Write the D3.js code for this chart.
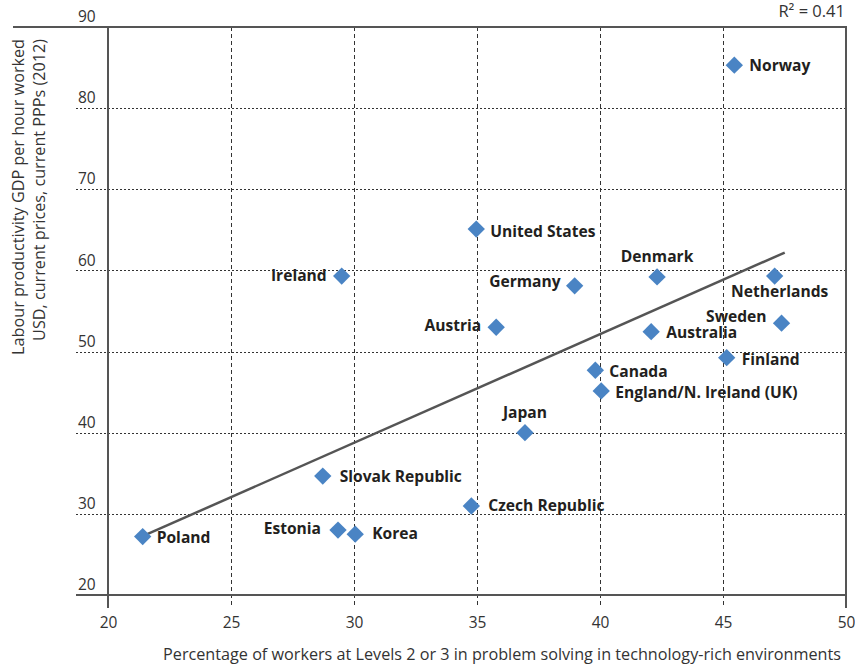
<!DOCTYPE html>
<html>
<head>
<meta charset="utf-8">
<script src="https://cdn.jsdelivr.net/npm/d3@7"></script>
<style>
  html, body { margin: 0; padding: 0; background: #ffffff; }
  svg text { font-family: "Open Sans", "Noto Sans", sans-serif; }
</style>
</head>
<body>
<svg id="chart" width="855" height="667"></svg>
<script>
// ---- Data ----
const countries = ["Norway", "United States", "Ireland", "Germany", "Austria", "Denmark", "Netherlands",
  "Sweden", "Australia", "Finland", "Canada", "England/N. Ireland (UK)", "Japan", "Slovak Republic",
  "Czech Republic", "Estonia", "Korea", "Poland"];
const problemSolving = [45.46, 34.97, 29.5, 38.97, 35.78, 42.32, 47.1,
  47.38, 42.08, 45.15, 39.81, 40.05, 36.95, 28.73,
  34.77, 29.35, 30.05, 21.41];
const productivity = [85.3, 65.1, 59.3, 58.1, 53.0, 59.2, 59.3,
  53.5, 52.45, 49.25, 47.7, 45.15, 40.0, 34.66,
  30.97, 28.0, 27.5, 27.2];
const trendX = [21.41, 47.51];
const trendY = [27.25, 62.2];
const xTicks = [20, 25, 30, 35, 40, 45, 50];
const yTicks = [20, 30, 40, 50, 60, 70, 80, 90];
const rSquaredLabel = "R² = 0.41";
const xTitle = "Percentage of workers at Levels 2 or 3 in problem solving in technology-rich environments";
const yTitleLines = ["Labour productivity GDP per hour worked", "USD, current prices, current PPPs (2012)"];

// label placement (style): [anchor, dx, dy]
const labelPlacement = {
  "Norway": ["start", 15, 6],
  "United States": ["start", 14, 8],
  "Ireland": ["end", -15, 5],
  "Germany": ["end", -14, 1],
  "Austria": ["end", -15, 4],
  "Denmark": ["middle", 0, -15],
  "Netherlands": ["middle", 5, 21],
  "Sweden": ["end", -15, -1],
  "Australia": ["start", 15, 6],
  "Finland": ["start", 15, 7],
  "Canada": ["start", 14, 7],
  "England/N. Ireland (UK)": ["start", 14, 7],
  "Japan": ["middle", 0, -15],
  "Slovak Republic": ["start", 17, 6],
  "Czech Republic": ["start", 17, 5],
  "Estonia": ["end", -17, 4],
  "Korea": ["start", 17, 5],
  "Poland": ["start", 14, 6]
};

const svg = d3.select("#chart");
const pLeft = 108, pRight = 846, pTop = 27, pBottom = 595;

const x = d3.scaleLinear().domain([20, 50]).range([pLeft, pRight]);
const y = d3.scaleLinear().domain([20, 90]).range([pBottom, pTop]);

const axisColor = "#555555";
const gridColor = "#333333";
const textColor = "#333333";

// y gridlines (dotted), extending left of axis
const gy = svg.append("g");
yTicks.forEach(t => {
  if (t === 20 || t === 90) return;
  gy.append("line")
    .attr("x1", 76).attr("x2", pRight)
    .attr("y1", Math.round(y(t)) + 0.5).attr("y2", Math.round(y(t)) + 0.5)
    .attr("stroke", gridColor).attr("stroke-width", 1)
    .attr("stroke-dasharray", "2,2");
});
// x gridlines (dashed), extending below axis
xTicks.forEach(t => {
  if (t === 20 || t === 50) return;
  gy.append("line")
    .attr("x1", Math.round(x(t)) + 0.5).attr("x2", Math.round(x(t)) + 0.5)
    .attr("y1", pTop).attr("y2", 608)
    .attr("stroke", gridColor).attr("stroke-width", 1)
    .attr("stroke-dasharray", "4,3");
});

// solid frame lines
svg.append("line").attr("x1", 13).attr("x2", pRight + 1).attr("y1", y(90)).attr("y2", y(90))
  .attr("stroke", axisColor).attr("stroke-width", 2);
svg.append("line").attr("x1", 76).attr("x2", pRight + 1).attr("y1", y(20)).attr("y2", y(20))
  .attr("stroke", axisColor).attr("stroke-width", 2);
svg.append("line").attr("x1", x(20)).attr("x2", x(20)).attr("y1", pTop).attr("y2", 608)
  .attr("stroke", axisColor).attr("stroke-width", 2);
svg.append("line").attr("x1", x(50)).attr("x2", x(50)).attr("y1", pTop).attr("y2", 608)
  .attr("stroke", axisColor).attr("stroke-width", 2);

// tick labels via d3 axes (domain/ticks hidden)
const xAxis = svg.append("g").attr("transform", `translate(0,${pBottom})`)
  .call(d3.axisBottom(x).tickValues(xTicks).tickSize(0).tickPadding(22));
xAxis.select(".domain").remove();
xAxis.selectAll("text").attr("fill", textColor).style("font-size", "15.5px")
  .style("font-family", "\"Open Sans\", sans-serif");

const yAxis = svg.append("g").attr("transform", `translate(76,0)`)
  .call(d3.axisLeft(y).tickValues(yTicks).tickSize(0).tickPadding(0));
yAxis.select(".domain").remove();
yAxis.selectAll("text").attr("fill", textColor).style("font-size", "15.5px")
  .attr("text-anchor", "start").attr("x", 2).attr("dy", "-0.35em")
  .style("font-family", "\"Open Sans\", sans-serif");

// trend line
const line = d3.line().x(d => x(d[0])).y(d => y(d[1]));
svg.append("path").datum(d3.zip(trendX, trendY)).attr("d", line)
  .attr("fill", "none").attr("stroke", "#555555").attr("stroke-width", 2.5);

// points
const data = countries.map((c, i) => ({ name: c, px: problemSolving[i], py: productivity[i] }));
const sym = d3.symbol().type(d3.symbolSquare).size(150);
svg.append("g").selectAll("path").data(data).join("path")
  .attr("d", sym)
  .attr("transform", d => `translate(${x(d.px)},${y(d.py)}) rotate(45)`)
  .attr("fill", "#4a84c4");

// labels
svg.append("g").selectAll("text").data(data).join("text")
  .attr("x", d => x(d.px) + labelPlacement[d.name][1])
  .attr("y", d => y(d.py) + labelPlacement[d.name][2])
  .attr("text-anchor", d => labelPlacement[d.name][0])
  .attr("fill", "#231f20")
  .style("font-size", "15.6px").style("font-weight", "bold")
  .text(d => d.name);

// R squared
svg.append("text").attr("x", 845).attr("y", 17).attr("text-anchor", "end")
  .attr("fill", textColor).style("font-size", "16.5px").text(rSquaredLabel);

// x title
svg.append("text").attr("x", 841).attr("y", 660).attr("text-anchor", "end")
  .attr("fill", textColor).style("font-size", "16.2px").text(xTitle);

// y title
yTitleLines.forEach((t, i) => {
  svg.append("text")
    .attr("transform", `translate(${24 + i * 21},39) rotate(-90)`)
    .attr("text-anchor", "end")
    .attr("fill", textColor).style("font-size", "16.2px").text(t);
});
</script>
</body>
</html>
